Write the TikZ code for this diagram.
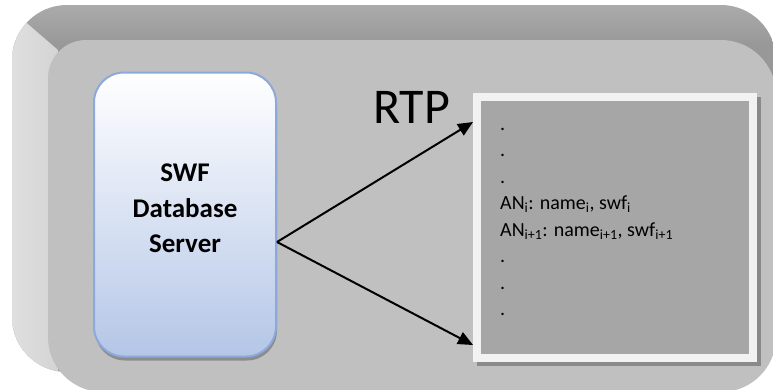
\documentclass[tikz,border=0pt]{standalone}
\usepackage{fontspec}
\setmainfont{Carlito}
\usetikzlibrary{arrows.meta,positioning,calc,shadows}

\definecolor{bevelTop}{HTML}{989898}
\definecolor{bevelLight}{HTML}{E2E2E2}
\definecolor{bevelMid}{HTML}{D4D4D4}
\definecolor{faceGray}{HTML}{C0C0C0}
\definecolor{serverEdge}{HTML}{8DA9DB}
\definecolor{serverFill}{HTML}{B4C6E7}
\definecolor{listGray}{HTML}{A6A6A6}
\definecolor{frameWhite}{HTML}{F2F2F2}

\begin{document}
\begin{tikzpicture}[x=1pt, y=-1pt, >={Triangle[length=15pt,width=13pt]},
    server/.style={draw=serverEdge, line width=2pt, rounded corners=30pt,
      top color=white, bottom color=serverFill, minimum width=182pt,
      minimum height=284pt, align=center, text depth=12pt,
      font=\bfseries\fontsize{27}{35.5}\selectfont,
      drop shadow={shadow xshift=1pt, shadow yshift=-4pt, fill=black!75, opacity=.4}},
    listbox/.style={draw=frameWhite, line width=8pt, fill=listGray,
      minimum width=276pt, minimum height=261pt, inner sep=0pt,
      drop shadow={shadow xshift=4pt, shadow yshift=-4pt, shadow scale=1.03,
        fill=black!46, opacity=1}},
    entries/.style={align=left, inner sep=0pt, font=\fontsize{20}{26.5}\selectfont},
    link/.style={->, line width=2pt}]
  \useasboundingbox (0,0) rectangle (773,389);

  % bevelled backdrop
  \begin{scope}
    \clip[rounded corners=55pt] (12,5) rectangle (776,372);
    \shade[top color=bevelTop!80!white, bottom color=bevelTop] (0,0) rectangle (780,45);
    \fill[bevelTop] (0,45) rectangle (780,400);
    \shade[left color=bevelLight, right color=bevelMid] (0,0) -- (58,50) -- (58,400) -- (0,400) -- cycle;
  \end{scope}
  \fill[faceGray] (300,40) [rounded corners=38pt] -- (48,40)
    [rounded corners=55pt] -- (48,392) -- (776,392) -- (776,40) -- cycle;

  \node[server] (db) at (185,214.5) {SWF\\Database\\Server};
  \node[listbox] (list) at (615,227.5) {};
  \node[entries, anchor=north west] (rows) at (500,111.5)
    {\strut.\\.\\.\\
     AN\textsubscript{i}: name\textsubscript{i}, swf\textsubscript{i}\\
     AN\textsubscript{i+1}: name\textsubscript{i+1}, swf\textsubscript{i+1}\\
     .\\.\\.};
  \node[anchor=base west, inner sep=0pt, font=\fontsize{50}{60}\selectfont] (rtp) at (373,123.5) {RTP};

  \draw[link] ([yshift=-27.5pt]db.east) -- ([yshift=105.5pt]list.west);
  \draw[link] ([yshift=-27.5pt]db.east) -- ([yshift=-117.5pt]list.west);
\end{tikzpicture}
\end{document}
